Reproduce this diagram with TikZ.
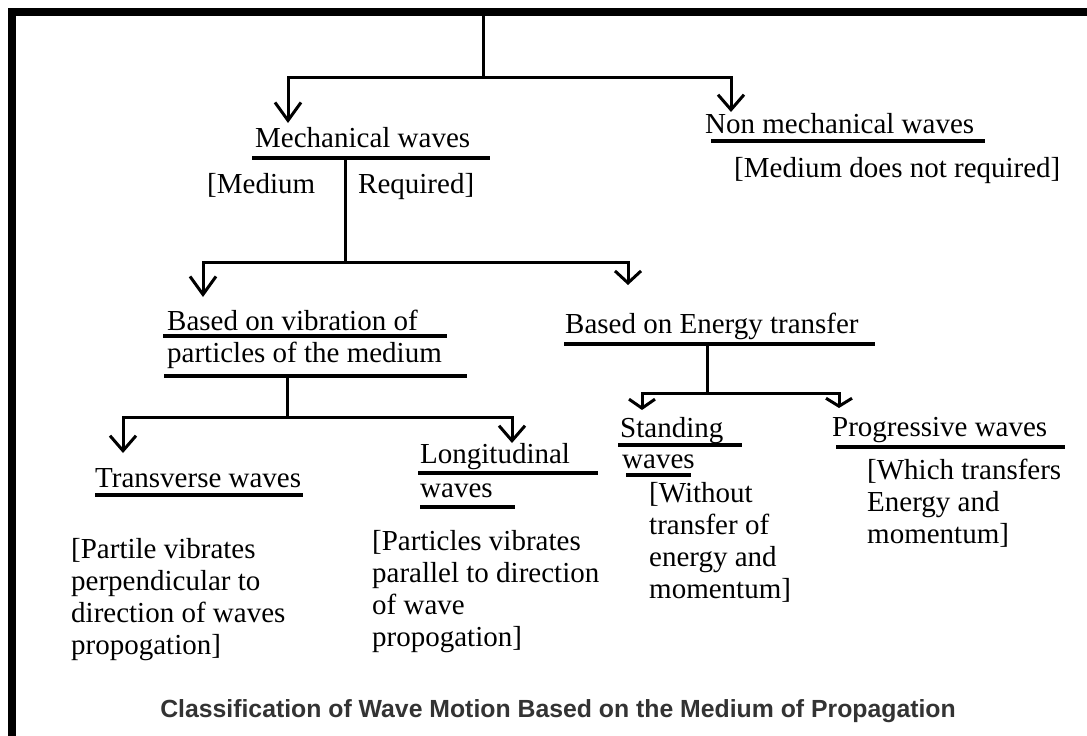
\documentclass[tikz,border=0pt]{standalone}
\usepackage{fontspec}
\setmainfont{Liberation Serif}
\newfontfamily\capfont{Liberation Sans}
\usetikzlibrary{arrows.meta}
\definecolor{capgray}{HTML}{333333}
\tikzset{
  txt/.style={anchor=base west, inner sep=0pt, font=\fontsize{29}{32}\selectfont},
  para/.style={anchor=base west, inner sep=0pt, align=left, font=\fontsize{29}{32}\selectfont},
  conn/.style={line width=3pt, line join=miter},
  arr/.style={conn, -{Straight Barb[length=#1,width=26pt,line width=3pt]}},
  arr/.default=15pt,
  uline/.style={line width=3.8pt},
  frame/.style={fill=black}
}
\begin{document}
\begin{tikzpicture}[x=1pt,y=-1pt]
\useasboundingbox (0,0) rectangle (1087,736);
% frame (top and left bars)
\fill[frame] (8,8) rectangle (1087,16);
\fill[frame] (8,8) rectangle (16,736);

% text nodes
\node[txt] (mech) at (255,147) {Mechanical waves};
\node[txt] (medL) at (207,193) {[Medium};
\node[txt] (medR) at (358,193) {Required]};
\node[txt] (nonm) at (705,133) {Non mechanical waves};
\node[txt] (nonmd) at (734,177) {[Medium does not required]};
\node[txt] (vib1) at (167,330) {Based on vibration of};
\node[txt] (vib2) at (167,362) {particles of the medium};
\node[txt] (ener) at (565,333) {Based on Energy transfer};
\node[txt] (trans) at (95,487) {Transverse waves};
\node[txt] (long1) at (420,463) {Longitudinal};
\node[txt] (long2) at (420,497) {waves};
\node[txt] (stand1) at (620,437) {Standing};
\node[txt] (stand2) at (622,468) {waves};
\node[txt] (prog) at (832,436) {Progressive waves};

\node[para] (transd) at (71,558) {[Partile vibrates};
\node[para] at (71,590) {perpendicular to};
\node[para] at (71,622) {direction of waves};
\node[para] at (71,654) {propogation]};

\node[para] (longd) at (372,550) {[Particles vibrates};
\node[para] at (372,582) {parallel to direction};
\node[para] at (372,614) {of wave};
\node[para] at (372,646) {propogation]};

\node[para] (standd) at (649,502) {[Without};
\node[para] at (649,534) {transfer of};
\node[para] at (649,566) {energy and};
\node[para] at (649,598) {momentum]};

\node[para] (progd) at (867,479) {[Which transfers};
\node[para] at (867,511) {Energy and};
\node[para] at (867,543) {momentum]};

\node[anchor=base, inner sep=0pt, text=capgray, font=\capfont\bfseries\fontsize{24.8}{28}\selectfont] (cap) at (558,717) {Classification of Wave Motion Based on the Medium of Propagation};

% underlines
\draw[uline] (252,158) -- (490,158);
\draw[uline] (711,141) -- (985,141);
\draw[uline] (163,336) -- (447,336);
\draw[uline] (164,376) -- (467,376);
\draw[uline] (564,344) -- (875,344);
\draw[uline] (95,495) -- (303,495);
\draw[uline] (418,473) -- (598,473);
\draw[uline] (420,507) -- (515,507);
\draw[uline] (618,445) -- (742,445);
\draw[uline] (626,475) -- (691,475);
\draw[uline] (836,447) -- (1065,447);

% coordinates
\coordinate (top) at (483,16);
\coordinate (j0) at (483,77);
\coordinate (amech) at (288,123);
\coordinate (anon) at (731,112);
\coordinate (smech) at (345,158);
\coordinate (j1) at (345,262);
\coordinate (avib) at (203,297);
\coordinate (aener) at (628,285);
\coordinate (svib) at (287,376);
\coordinate (j2) at (287,417);
\coordinate (atrans) at (123,453);
\coordinate (along) at (512,443);
\coordinate (sener) at (707,344);
\coordinate (j3) at (707,393);
\coordinate (astand) at (642,410);
\coordinate (aprog) at (839,408);

% connectors
\draw[conn] (top) -- (j0);
\draw[arr=18pt] (j0) -| (amech);
\draw[arr=15pt] (j0) -| (anon);
\draw[conn] (smech) -- (j1);
\draw[arr=18pt] (j1) -| (avib);
\draw[arr=12pt] (j1) -| (aener);
\draw[conn] (svib) -- (j2);
\draw[arr=15pt] (j2) -| (atrans);
\draw[arr=15pt] (j2) -| (along);
\draw[conn] (sener) -- (j3);
\draw[arr=9pt] (j3) -| (astand);
\draw[arr=8pt] (j3) -| (aprog);
\end{tikzpicture}
\end{document}
